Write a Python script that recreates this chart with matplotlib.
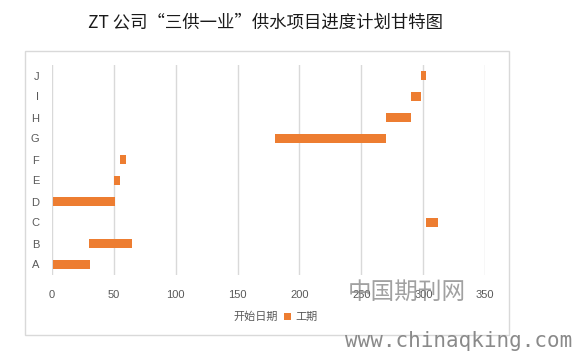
import matplotlib
matplotlib.use('Agg')
import matplotlib.pyplot as plt
from matplotlib.patches import Patch, Rectangle

plt.rcParams['font.family'] = ['Noto Sans CJK SC', 'DejaVu Sans']

tasks     = ['A', 'B', 'C', 'D', 'E', 'F', 'G', 'H', 'I', 'J']
start_day = [1, 30, 302, 1, 50, 55, 180, 270, 290, 298]
duration  = [30, 35, 10, 50, 5, 5, 90, 20, 8, 4]
x_ticks   = [0, 50, 100, 150, 200, 250, 300, 350]

ORANGE = '#ED7D31'
GRID   = '#D9D9D9'
TEXT   = '#595959'

W, H = 575, 351
fig = plt.figure(figsize=(W/100, H/100), dpi=100)

# chart area border (excel style)
fig.patches.append(Rectangle((25/W, 1-335/H), (509-25)/W, (335-51)/H,
                             transform=fig.transFigure, fill=False,
                             edgecolor=GRID, lw=1.0))

ax = fig.add_axes([51.7/W, 1-275/H, (485.3-51.7)/W, 210/H])
ypos = list(range(len(tasks)))
# invisible start series + visible duration series
ax.barh(ypos, start_day, height=0.4, color='none')
ax.barh(ypos, duration, left=start_day, height=0.4, color=ORANGE)

ax.set_xlim(0, 350)
ax.set_ylim(-0.5, len(tasks) - 0.5)
ax.set_xticks(x_ticks)
ax.set_yticks(ypos)
ax.set_yticklabels(tasks)
ax.grid(axis='x', color=GRID, lw=1.0)
ax.set_axisbelow(True)
for s in ax.spines.values():
    s.set_visible(False)
ax.tick_params(axis='x', length=0, pad=11, labelsize=8, labelcolor=TEXT)
ax.tick_params(axis='y', length=0, pad=9, labelsize=8, labelcolor=TEXT)
for lbl in ax.get_xticklabels() + ax.get_yticklabels():
    lbl.set_fontfamily(['Liberation Sans', 'DejaVu Sans'])

fig.text(266/W, 1-22/H, 'ZT 公司“三供一业”供水项目进度计划甘特图',
         ha='center', va='center', fontsize=12.5, color='#1a1a1a')

handles = [Patch(facecolor='none', edgecolor='none', label='开始日期'),
           Patch(facecolor=ORANGE, edgecolor='none', label='工期')]
fig.legend(handles=handles, loc='center', bbox_to_anchor=(270/W, 1-317/H),
           ncol=2, frameon=False, fontsize=8, labelcolor=TEXT,
           handlelength=0.6, handleheight=0.6, handletextpad=0.4,
           columnspacing=0.6)

# watermark from the source image
fig.text(348/W, 1-292/H, '中国期刊网', ha='left', va='center', fontsize=17,
         color='#8a8a8a', alpha=0.8, fontweight='light')
fig.text(345/W, 1-341/H, 'www.chinaqking.com', ha='left', va='center',
         fontsize=15, color='#8a8a8a', family='DejaVu Sans Mono')

fig.savefig('out.png', dpi=100)
